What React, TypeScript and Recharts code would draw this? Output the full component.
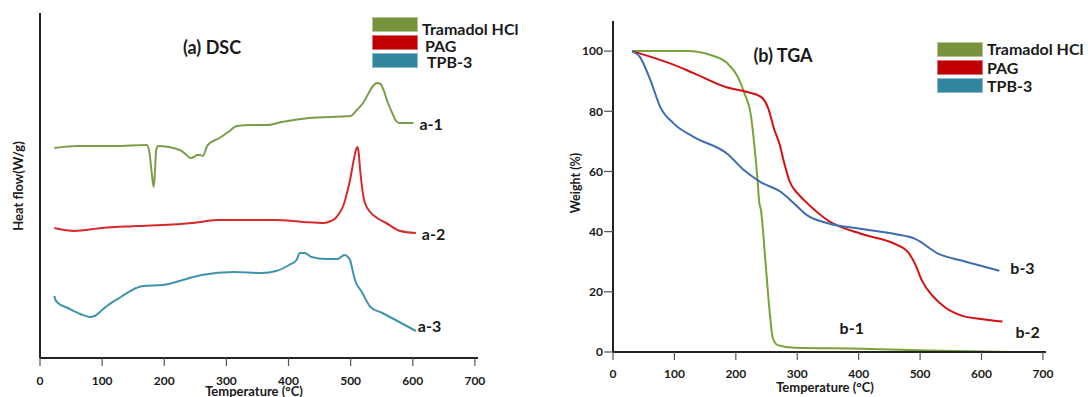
import { LineChart, Line, XAxis, YAxis, LabelList } from "recharts";

// temperature axis shared by both panels
const tempTicks = [0, 100, 200, 300, 400, 500, 600, 700];
const weightTicks = [0, 20, 40, 60, 80, 100];
const seriesNames = ["Tramadol HCl", "PAG", "TPB-3"];

// DSC: heat flow has no scale on the original, values are relative
const dscTramadol = [
  { t: 23, hf: 210 }, { t: 60, hf: 212 }, { t: 120, hf: 212 }, { t: 172, hf: 213 }, { t: 176, hf: 206 },
  { t: 180, hf: 184 }, { t: 183, hf: 171 }, { t: 185, hf: 186 }, { t: 187, hf: 208 }, { t: 190, hf: 212 },
  { t: 225, hf: 208 }, { t: 234, hf: 204 }, { t: 242, hf: 200 }, { t: 248, hf: 201 }, { t: 253, hf: 203 },
  { t: 258, hf: 203 }, { t: 262, hf: 202 }, { t: 270, hf: 213 }, { t: 289, hf: 220 }, { t: 303, hf: 226 },
  { t: 317, hf: 232 }, { t: 340, hf: 233 }, { t: 367, hf: 233 }, { t: 389, hf: 236 }, { t: 433, hf: 240 },
  { t: 500, hf: 242 }, { t: 510, hf: 248 }, { t: 520, hf: 255 }, { t: 530, hf: 266 }, { t: 536, hf: 272 },
  { t: 542, hf: 275 }, { t: 548, hf: 274 }, { t: 553, hf: 268 }, { t: 560, hf: 255 }, { t: 567, hf: 245 },
  { t: 572, hf: 238 }, { t: 578, hf: 235 }, { t: 601, hf: 235 },
];
const dscPag = [
  { t: 23, hf: 130 }, { t: 40, hf: 128 }, { t: 55, hf: 127 }, { t: 100, hf: 130 }, { t: 157, hf: 132 },
  { t: 246, hf: 135 }, { t: 285, hf: 138 }, { t: 330, hf: 138 }, { t: 379, hf: 138 }, { t: 424, hf: 136 },
  { t: 457, hf: 135 }, { t: 468, hf: 137 }, { t: 476, hf: 140 }, { t: 482, hf: 145 }, { t: 488, hf: 152 },
  { t: 492, hf: 160 }, { t: 499, hf: 178 }, { t: 505, hf: 198 }, { t: 509, hf: 209 }, { t: 511, hf: 211 },
  { t: 513, hf: 205 }, { t: 515, hf: 190 }, { t: 517, hf: 178 }, { t: 521, hf: 160 }, { t: 525, hf: 152 },
  { t: 530, hf: 147 }, { t: 545, hf: 139 }, { t: 557, hf: 135 }, { t: 580, hf: 127 }, { t: 605, hf: 125 },
];
const dscTpb = [
  { t: 23, hf: 62 }, { t: 25, hf: 58 }, { t: 29, hf: 55 }, { t: 45, hf: 50 }, { t: 65, hf: 44 },
  { t: 80, hf: 41 }, { t: 88, hf: 42 }, { t: 100, hf: 48 }, { t: 110, hf: 53 }, { t: 130, hf: 61 },
  { t: 155, hf: 70 }, { t: 166, hf: 72 }, { t: 198, hf: 73 }, { t: 230, hf: 78 }, { t: 260, hf: 83 },
  { t: 312, hf: 86 }, { t: 357, hf: 85 }, { t: 380, hf: 87 }, { t: 401, hf: 93 }, { t: 413, hf: 98 },
  { t: 418, hf: 105 }, { t: 426, hf: 105 }, { t: 437, hf: 101 }, { t: 460, hf: 99 }, { t: 479, hf: 99 },
  { t: 490, hf: 103 }, { t: 499, hf: 98 }, { t: 503, hf: 88 }, { t: 507, hf: 78 }, { t: 518, hf: 66 },
  { t: 532, hf: 51 }, { t: 551, hf: 45 }, { t: 605, hf: 27 },
];

// TGA: weight %
const tgaTramadol = [
  { t: 31, w: 100 }, { t: 121, w: 100 }, { t: 159, w: 98.7 }, { t: 186, w: 96 }, { t: 203, w: 91.5 },
  { t: 214, w: 86 }, { t: 225, w: 78 }, { t: 230, w: 69 }, { t: 235, w: 58 }, { t: 238, w: 50 },
  { t: 241, w: 47 }, { t: 249, w: 28 }, { t: 256, w: 11.4 }, { t: 260, w: 4.8 }, { t: 268, w: 2.3 },
  { t: 296, w: 1.4 }, { t: 405, w: 1.1 }, { t: 514, w: 0.5 }, { t: 651, w: 0 },
];
const tgaPag = [
  { t: 31, w: 100 }, { t: 93, w: 95.9 }, { t: 132, w: 92.6 }, { t: 186, w: 87.9 }, { t: 219, w: 86.4 },
  { t: 241, w: 84.8 }, { t: 252, w: 81.4 }, { t: 263, w: 73.7 }, { t: 271, w: 69.2 }, { t: 279, w: 62.6 },
  { t: 287, w: 57 }, { t: 301, w: 52.6 }, { t: 312, w: 50.3 }, { t: 350, w: 43.7 }, { t: 405, w: 39.2 },
  { t: 459, w: 35.9 }, { t: 481, w: 33 }, { t: 492, w: 29.2 }, { t: 503, w: 23.7 }, { t: 520, w: 18.7 },
  { t: 541, w: 14.8 }, { t: 569, w: 12 }, { t: 602, w: 10.9 }, { t: 634, w: 10.1 },
];
const tgaTpb = [
  { t: 31, w: 100 }, { t: 44, w: 98 }, { t: 61, w: 90.3 }, { t: 77, w: 81.4 }, { t: 99, w: 75.9 },
  { t: 132, w: 71.4 }, { t: 186, w: 65.9 }, { t: 214, w: 60.3 }, { t: 241, w: 56.4 }, { t: 274, w: 53.1 },
  { t: 290, w: 50.3 }, { t: 317, w: 45.3 }, { t: 350, w: 42.8 }, { t: 405, w: 40.9 }, { t: 459, w: 39.2 },
  { t: 492, w: 37.6 }, { t: 530, w: 32.6 }, { t: 569, w: 30.3 }, { t: 629, w: 27 },
];

const FONT = "Lato, 'DejaVu Sans', sans-serif";
const INK = "#1a1a1a";
const swatchColors = ["#77933C", "#C00000", "#31859C"];
const tickStyle = { fill: INK, fontSize: 12, fontWeight: 700, fontFamily: FONT };

// curve tag drawn next to one chosen point of a series
function tagAt(text: string, index: number, dx: number, dy: number, anchor: "start" | "middle" = "start") {
  return (p: any) =>
    p.index === index ? (
      <text x={p.x + dx} y={p.y + dy} textAnchor={anchor} dominantBaseline="central"
        fontFamily={FONT} fontWeight={700} fontSize={16} fill={INK}>{text}</text>
    ) : null;
}

function Caption({ x, y, size, vertical, children }: { x: number; y: number; size: number; vertical?: boolean; children: React.ReactNode }) {
  return (
    <div style={{
      position: "absolute", left: x, top: y, transform: `translate(-50%, -50%)${vertical ? " rotate(-90deg)" : ""}`,
      fontFamily: FONT, fontWeight: 700, fontSize: size, lineHeight: 1, whiteSpace: "nowrap", color: INK,
    }}>{children}</div>
  );
}

function Key({ x, tops, textX, textY }: { x: number; tops: number[]; textX: number[]; textY: number[] }) {
  return (
    <>
      {seriesNames.map((name, i) => (
        <div key={name}>
          <div style={{
            position: "absolute", left: x, top: tops[i], width: 46, height: 15, boxSizing: "border-box",
            background: swatchColors[i], border: "1px solid rgba(255,255,255,0.45)",
          }} />
          <div style={{
            position: "absolute", left: textX[i], top: textY[i], transform: "translateY(-50%)",
            fontFamily: FONT, fontWeight: 700, fontSize: 16, lineHeight: 1, whiteSpace: "nowrap", color: INK,
          }}>{name}</div>
        </div>
      ))}
    </>
  );
}

export default function App() {
  const axisLine = { stroke: "#222", strokeWidth: 2 };
  const tickLine = { stroke: "#555", strokeWidth: 1.2 };
  return (
    <div style={{ position: "absolute", left: 0, top: 0, width: 1088, height: 397, background: "#fff", overflow: "hidden" }}>
      <div style={{ position: "absolute", left: 0, top: 0 }}>
        <LineChart width={540} height={397} margin={{ top: 13, right: 62, bottom: 0, left: 38 }}>
          <XAxis type="number" dataKey="t" domain={[0, 705]} ticks={tempTicks} height={39}
            tickSize={8} tickMargin={10} axisLine={axisLine} tickLine={tickLine} tick={tickStyle} />
          <YAxis type="number" dataKey="hf" domain={[0, 345]} ticks={[0]} width={2} tick={false} tickLine={false} axisLine={axisLine} />
          <Line data={dscTramadol} dataKey="hf" type="monotone" stroke="#7a9e48" strokeWidth={2} dot={false} isAnimationActive={false}>
            <LabelList dataKey="hf" content={tagAt("a-1", dscTramadol.length - 1, 6, 0)} />
          </Line>
          <Line data={dscPag} dataKey="hf" type="monotone" stroke="#d62a2a" strokeWidth={2} dot={false} isAnimationActive={false}>
            <LabelList dataKey="hf" content={tagAt("a-2", dscPag.length - 1, 6, 0)} />
          </Line>
          <Line data={dscTpb} dataKey="hf" type="monotone" stroke="#3e94aa" strokeWidth={2} dot={false} isAnimationActive={false}>
            <LabelList dataKey="hf" content={tagAt("a-3", dscTpb.length - 1, 2, -6)} />
          </Line>
        </LineChart>
      </div>

      <div style={{ position: "absolute", left: 540, top: 0 }}>
        <LineChart width={548} height={397} margin={{ top: 21, right: 42, bottom: 0, left: 0 }}>
          <XAxis type="number" dataKey="t" domain={[0, 705]} ticks={tempTicks} height={45}
            tickSize={8} tickMargin={9} axisLine={axisLine} tickLine={tickLine} tick={tickStyle} />
          <YAxis type="number" dataKey="w" domain={[0, 110]} ticks={weightTicks} width={73}
            tickSize={9} tickMargin={1} axisLine={axisLine} tickLine={tickLine} tick={tickStyle} />
          <Line data={tgaTramadol} dataKey="w" type="monotone" stroke="#79a33a" strokeWidth={2} dot={false} isAnimationActive={false}>
            <LabelList dataKey="w" content={tagAt("b-1", 16, -10, -21, "middle")} />
          </Line>
          <Line data={tgaPag} dataKey="w" type="monotone" stroke="#d40f0f" strokeWidth={2} dot={false} isAnimationActive={false}>
            <LabelList dataKey="w" content={tagAt("b-2", tgaPag.length - 1, 13, 10)} />
          </Line>
          <Line data={tgaTpb} dataKey="w" type="monotone" stroke="#3d6cb0" strokeWidth={2} dot={false} isAnimationActive={false}>
            <LabelList dataKey="w" content={tagAt("b-3", tgaTpb.length - 1, 11, -3)} />
          </Line>
        </LineChart>
      </div>

      <Caption x={212} y={47} size={18}>(a) DSC</Caption>
      <Caption x={783} y={55} size={18}>(b) TGA</Caption>
      <Caption x={18} y={186} size={13} vertical>Heat flow(W/g)</Caption>
      <Caption x={576} y={183} size={12.5} vertical>Weight (%)</Caption>
      <Caption x={254} y={391} size={13}>Temperature (°C)</Caption>
      <Caption x={825} y={387} size={13}>Temperature (°C)</Caption>

      <Key x={372} tops={[17, 35, 53]} textX={[422, 425, 427]} textY={[29, 46, 62]} />
      <Key x={937} tops={[42, 60, 78]} textX={[987, 987, 987]} textY={[49, 68, 86]} />
    </div>
  );
}
